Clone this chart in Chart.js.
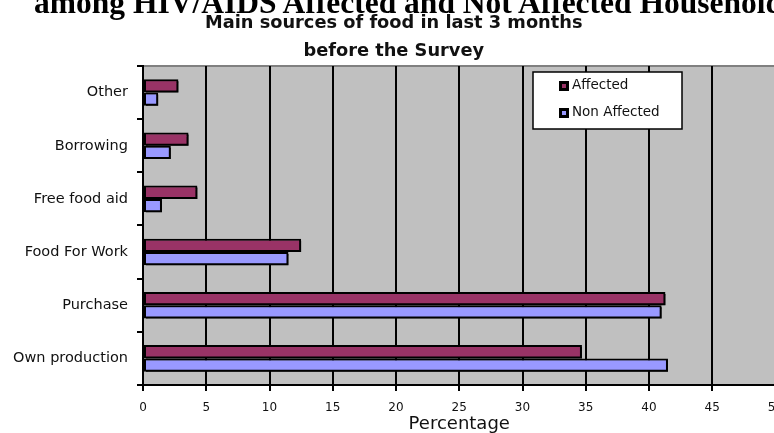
<!DOCTYPE html>
<html>
<head>
<meta charset="utf-8">
<script src="https://cdn.jsdelivr.net/npm/chart.js@4/dist/chart.umd.min.js"></script>
<style>
  html, body { margin: 0; padding: 0; background: #fff; overflow: hidden; width: 774px; height: 433px; }
  #wrap { position: relative; width: 800px; height: 433px; }
  #heading {
    position: absolute; left: 34px; top: -13px;
    font: bold 31.5px "Liberation Serif", "Times New Roman", serif;
    line-height: 31px; white-space: nowrap; color: #000;
  }
  canvas { position: absolute; left: 0; top: 0; }
</style>
</head>
<body>
<div id="wrap">
  <canvas id="chart" width="800" height="433"></canvas>
  <div id="heading">among HIV/AIDS Affected and Not Affected Households</div>
</div>
<script>
// Sources of food, share of households (%)
const categories = ['Other', 'Borrowing', 'Free food aid', 'Food For Work', 'Purchase', 'Own production'];
const affected = [2.8, 3.6, 4.3, 12.5, 41.3, 34.7];
const nonAffected = [1.2, 2.2, 1.5, 11.5, 41.0, 41.5];
const seriesNames = ['Affected', 'Non Affected'];
const chartTitle = ['Main sources of food in last 3 months', 'before the Survey'];
const axisTitle = 'Percentage';
const xMin = 0, xMax = 50, xStep = 5;

const FONT = 'DejaVu Sans';

// Grey plot area with a darker top edge
const plotBackground = {
  id: 'plotBackground',
  beforeDraw(chart) {
    const { ctx, chartArea: a } = chart;
    ctx.save();
    ctx.fillStyle = '#c0c0c0';
    ctx.fillRect(a.left, a.top, a.right - a.left, a.bottom - a.top);
    ctx.strokeStyle = '#808080';
    ctx.lineWidth = 2;
    ctx.beginPath();
    ctx.moveTo(a.left, a.top);
    ctx.lineTo(a.right, a.top);
    ctx.stroke();
    ctx.restore();
  }
};

// Hard black drop shadow under the bars
const barShadow = {
  id: 'barShadow',
  beforeDatasetsDraw(chart) {
    const ctx = chart.ctx;
    ctx.save();
    ctx.shadowColor = '#000';
    ctx.shadowBlur = 0;
    ctx.shadowOffsetX = 2;
    ctx.shadowOffsetY = 2;
  },
  afterDatasetsDraw(chart) {
    chart.ctx.restore();
  }
};

// Boxed legend sitting inside the plot area
const insetLegend = {
  id: 'insetLegend',
  afterDraw(chart) {
    const { ctx, chartArea: a } = chart;
    const x = a.left + 390, y = a.top + 6, w = 149, h = 57;
    ctx.save();
    ctx.fillStyle = '#fff';
    ctx.fillRect(x, y, w, h);
    ctx.strokeStyle = '#000';
    ctx.lineWidth = 1.5;
    ctx.strokeRect(x, y, w, h);
    ctx.font = '13.5px "' + FONT + '"';
    ctx.textBaseline = 'middle';
    ctx.textAlign = 'left';
    chart.data.datasets.forEach((ds, i) => {
      const cy = y + 14 + i * 27;
      ctx.fillStyle = '#000';
      ctx.fillRect(x + 26, cy - 5, 10, 10);
      ctx.fillStyle = ds.backgroundColor;
      ctx.fillRect(x + 29, cy - 2, 4, 4);
      ctx.fillStyle = '#111';
      ctx.fillText(ds.label, x + 39, cy);
    });
    ctx.restore();
  }
};

new Chart(document.getElementById('chart'), {
  type: 'bar',
  data: {
    labels: categories,
    datasets: [
      {
        label: seriesNames[0],
        data: affected,
        backgroundColor: '#993366',
        borderColor: '#000',
        borderWidth: 2,
        borderSkipped: false,
        categoryPercentage: 0.5,
        barPercentage: 1.0
      },
      {
        label: seriesNames[1],
        data: nonAffected,
        backgroundColor: '#9999ff',
        borderColor: '#000',
        borderWidth: 2,
        borderSkipped: false,
        categoryPercentage: 0.5,
        barPercentage: 1.0
      }
    ]
  },
  options: {
    indexAxis: 'y',
    responsive: false,
    animation: false,
    devicePixelRatio: 1,
    layout: { padding: { left: 12, right: 24.5, top: 0, bottom: 0 } },
    plugins: {
      legend: { display: false },
      tooltip: { enabled: false },
      title: {
        display: true,
        text: chartTitle,
        color: '#111',
        font: { family: FONT, size: 17.8, weight: 'bold', lineHeight: 1.573 },
        padding: { top: 9, bottom: 1 }
      }
    },
    scales: {
      x: {
        type: 'linear',
        min: xMin,
        max: xMax,
        ticks: {
          stepSize: xStep,
          color: '#111',
          font: { family: FONT, size: 12 },
          padding: 10,
          maxRotation: 0
        },
        grid: { color: '#000', lineWidth: 2, tickLength: 6, drawOnChartArea: true },
        border: { display: true, color: '#000', width: 2 },
        title: {
          display: true,
          text: axisTitle,
          color: '#111',
          font: { family: FONT, size: 18, lineHeight: 1 },
          padding: 0
        },
        afterFit(scale) { scale.height = 48; }
      },
      y: {
        ticks: {
          color: '#111',
          font: { family: FONT, size: 14.5 },
          padding: 9
        },
        grid: { offset: true, drawOnChartArea: false, tickLength: 6, color: '#000', lineWidth: 2 },
        border: { display: true, color: '#000', width: 2 },
        afterFit(scale) { scale.width = 131; }
      }
    }
  },
  plugins: [plotBackground, barShadow, insetLegend]
});
</script>
</body>
</html>
